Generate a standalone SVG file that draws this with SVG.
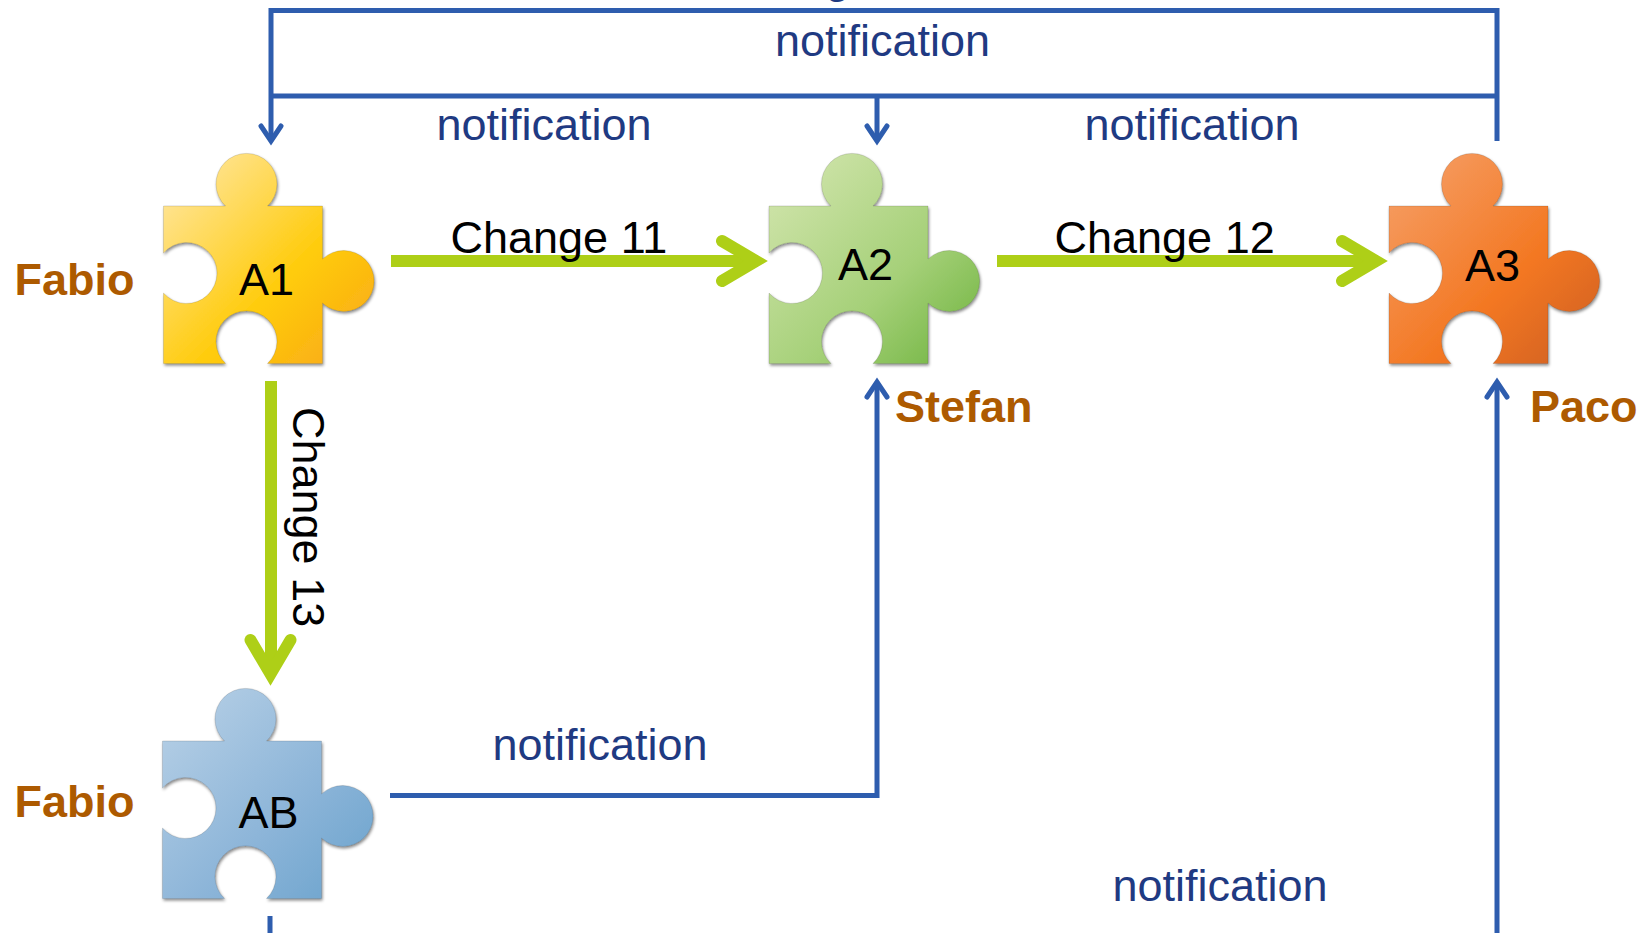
<svg xmlns="http://www.w3.org/2000/svg" xmlns:xlink="http://www.w3.org/1999/xlink" width="1646" height="933" viewBox="0 0 1646 933">
<style>
text{font-family:"Liberation Sans",Arial,sans-serif;font-size:45px}
.n{fill:#1f3a82}
.b{fill:#000}
.p{fill:#ad5a00;font-weight:bold}
.blue{fill:none;stroke:#2e5dae;stroke-width:5;stroke-linejoin:miter}
.bh{fill:none;stroke:#2e5dae;stroke-width:5;stroke-linecap:round;stroke-linejoin:miter}
.green{fill:none;stroke:#aecf17;stroke-width:12}
.gh{fill:none;stroke:#aecf17;stroke-width:12;stroke-linecap:round;stroke-linejoin:miter}
.piece{stroke:#000;stroke-opacity:.12;stroke-width:1;filter:url(#sh)}
</style>
<defs>
<path id="pz" d="M0,0H62A30.5,30.5 0 1 1 104,0H159V53A30.5,30.5 0 1 1 159,97V157.500H104A30.5,30.5 0 1 0 62,157.500H0V87A30.5,30.5 0 1 0 0,47Z"/>
<filter id="sh" x="-10%" y="-10%" width="125%" height="125%"><feDropShadow dx="1" dy="2" stdDeviation="1.8" flood-color="#000" flood-opacity=".45"/></filter>
<linearGradient id="g1" x1="0" y1="0" x2="1" y2="1"><stop offset="0" stop-color="#ffe9b0"/><stop offset=".6" stop-color="#ffcb08"/><stop offset="1" stop-color="#f8a51c"/></linearGradient>
<linearGradient id="g2" x1="0" y1="0" x2="1" y2="1"><stop offset="0" stop-color="#d6e7b2"/><stop offset=".6" stop-color="#a5d078"/><stop offset="1" stop-color="#6cb23c"/></linearGradient>
<linearGradient id="g3" x1="0" y1="0" x2="1" y2="1"><stop offset="0" stop-color="#f6a26c"/><stop offset=".6" stop-color="#f37721"/><stop offset="1" stop-color="#cc5e26"/></linearGradient>
<linearGradient id="g4" x1="0" y1="0" x2="1" y2="1"><stop offset="0" stop-color="#bad2e7"/><stop offset=".6" stop-color="#8bb4d8"/><stop offset="1" stop-color="#69a2cc"/></linearGradient>
</defs>
<g id="connectors">
<path class="blue" d="M1497,141V10.5H271V96M271,96H1497M271,96V141M877,96V141"/>
<path class="bh" d="M261,126L271,141L281,126M867,126L877,141L887,126"/>
<path class="blue" d="M390,795.500H877V382"/>
<path class="bh" d="M867,397L877,382L887,397M1487,397L1497,382L1507,397"/>
<path class="blue" d="M1497,933V382M270,916V933"/>
<path class="green" d="M391,261H756M997,261H1376M271,381V674"/>
<path class="gh" d="M722,241L756,261L722,281M1342,241L1376,261L1342,281M250.500,640L270.500,674L290.500,640"/>
</g>
<g id="A1"><use href="#pz" class="piece" fill="url(#g1)" transform="translate(163.500,206)"/><text class="b" x="239" y="294.500">A1</text></g>
<g id="A2"><use href="#pz" class="piece" fill="url(#g2)" transform="translate(769,206)"/><text class="b" x="838" y="280">A2</text></g>
<g id="A3"><use href="#pz" class="piece" fill="url(#g3)" transform="translate(1389,206)"/><text class="b" x="1465" y="280.500">A3</text></g>
<g id="AB"><use href="#pz" class="piece" fill="url(#g4)" transform="translate(162.500,741)"/><text class="b" x="238.500" y="828">AB</text></g>
<g id="labels">
<text class="p" x="14.500" y="295">Fabio</text>
<text class="p" x="14.500" y="817">Fabio</text>
<text class="p" x="895" y="422">Stefan</text>
<text class="p" x="1530" y="422">Paco</text>
<text class="n" x="825" y="-7">g</text>
<text class="n" x="775" y="56">notification</text>
<text class="n" x="436.500" y="140">notification</text>
<text class="n" x="1084.500" y="140">notification</text>
<text class="n" x="492.500" y="760">notification</text>
<text class="n" x="1112.500" y="901">notification</text>
<text class="b" x="450.500" y="252.500">Change 11</text>
<text class="b" x="1054.500" y="252.500">Change 12</text>
<text class="b" transform="translate(292.500,407) rotate(90)">Change 13</text>
</g>
</svg>
